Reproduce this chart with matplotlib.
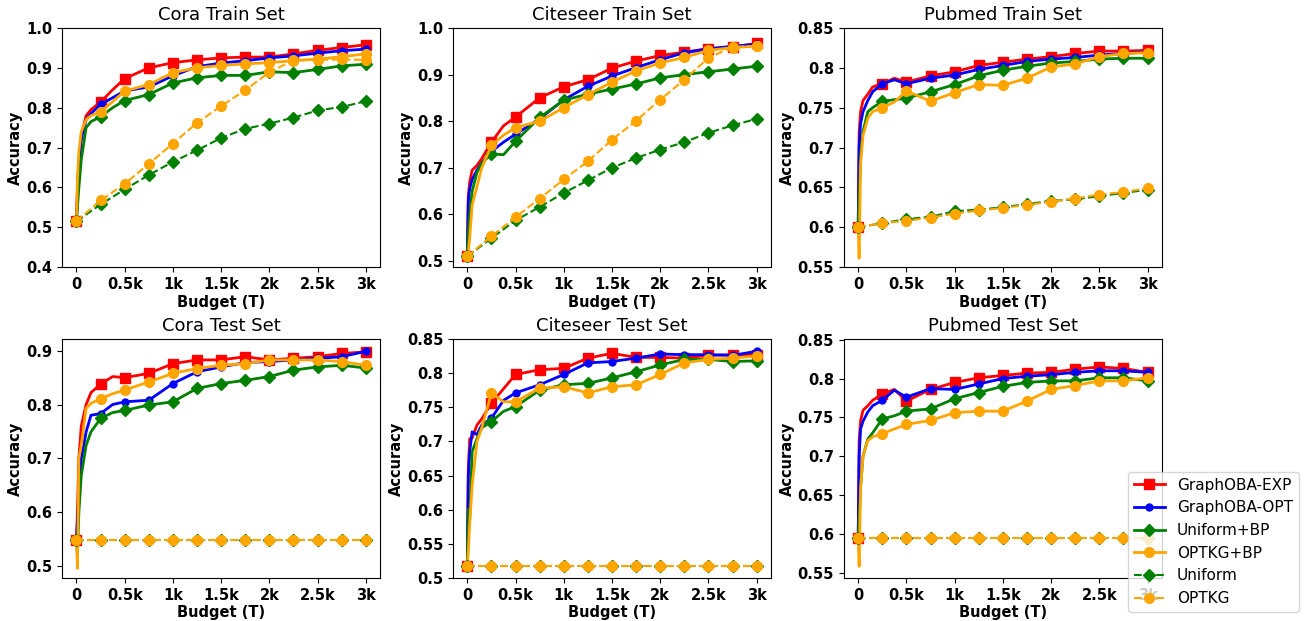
import matplotlib
matplotlib.use("Agg")
import matplotlib.pyplot as plt
from matplotlib.ticker import FuncFormatter

# budget steps where values were read (solid curves) and marker steps (dashed curves)
budget = [0, 10, 25, 50, 100, 150, 250, 375, 500, 750, 1000, 1250, 1500, 1750, 2000, 2250, 2500, 2750, 3000]
budget_marks = [0, 250, 500, 750, 1000, 1250, 1500, 1750, 2000, 2250, 2500, 2750, 3000]

labels = ["GraphOBA-EXP", "GraphOBA-OPT", "Uniform+BP", "OPTKG+BP", "Uniform", "OPTKG"]

# Cora train
cora_train_exp = [.515, .60, .67, .73, .78, .795, .814, .845, .873, .900, .913, .920, .925, .927, .927, .935, .944, .951, .958]
cora_train_opt = [.515, .58, .65, .72, .77, .785, .808, .825, .842, .852, .880, .903, .912, .918, .925, .930, .937, .943, .947]
cora_train_ubp = [.515, .55, .60, .67, .75, .765, .777, .800, .818, .833, .862, .875, .881, .881, .890, .888, .896, .905, .909]
cora_train_obp = [.515, .62, .69, .74, .77, .78, .790, .815, .842, .858, .888, .900, .906, .910, .913, .918, .922, .928, .935]
cora_train_uni = [.515, .557, .595, .631, .664, .693, .724, .747, .760, .775, .793, .802, .816]
cora_train_optkg = [.515, .567, .609, .659, .710, .762, .804, .844, .889, .919, .920, .921, .920]

# Citeseer train
cite_train_exp = [.51, .64, .67, .695, .705, .72, .755, .79, .809, .85, .874, .889, .914, .929, .941, .948, .956, .959, .967]
cite_train_opt = [.51, .63, .655, .675, .695, .71, .735, .755, .772, .805, .846, .875, .897, .915, .932, .947, .955, .961, .965]
cite_train_ubp = [.51, .56, .60, .65, .69, .71, .73, .728, .757, .808, .845, .858, .869, .880, .893, .900, .906, .912, .918]
cite_train_obp = [.51, .52, .55, .62, .66, .70, .748, .77, .786, .80, .829, .857, .884, .908, .925, .937, .952, .958, .961]
cite_train_uni = [.51, .549, .587, .616, .646, .673, .700, .721, .739, .755, .775, .791, .805]
cite_train_optkg = [.51, .553, .594, .634, .675, .714, .760, .801, .846, .889, .936, .959, .962]

# Pubmed train
pub_train_exp = [.60, .72, .745, .759, .767, .776, .780, .787, .782, .790, .795, .803, .807, .811, .814, .818, .821, .821, .822]
pub_train_opt = [.60, .70, .73, .745, .759, .770, .780, .785, .780, .787, .791, .798, .803, .808, .811, .813, .816, .818, .820]
pub_train_ubp = [.60, .64, .69, .72, .745, .75, .758, .760, .762, .770, .779, .790, .797, .802, .806, .808, .811, .812, .812]
pub_train_obp = [.60, .561, .68, .715, .737, .745, .750, .757, .771, .758, .769, .779, .778, .787, .801, .805, .814, .818, .819]
pub_train_uni = [.60, .605, .610, .613, .620, .622, .625, .629, .633, .635, .639, .643, .647]
pub_train_optkg = [.60, .605, .608, .612, .617, .621, .624, .628, .632, .636, .641, .644, .649]

# Cora test
cora_test_exp = [.548, .60, .70, .76, .80, .822, .838, .852, .850, .858, .876, .883, .883, .889, .883, .886, .889, .895, .898]
cora_test_opt = [.548, .58, .63, .70, .749, .78, .783, .800, .805, .808, .839, .861, .870, .878, .880, .883, .886, .889, .899]
cora_test_ubp = [.548, .52, .60, .668, .724, .749, .774, .785, .789, .799, .805, .830, .839, .845, .852, .864, .870, .873, .868]
cora_test_obp = [.548, .495, .70, .724, .793, .802, .811, .820, .827, .842, .858, .867, .873, .876, .883, .883, .883, .880, .873]
cora_test_uni = [.548] * 13
cora_test_optkg = [.548] * 13

# Citeseer test
cite_test_exp = [.517, .66, .704, .705, .724, .733, .756, .777, .798, .805, .807, .822, .829, .823, .823, .822, .826, .827, .827]
cite_test_opt = [.517, .65, .685, .714, .71, .724, .734, .76, .771, .783, .798, .815, .817, .822, .828, .827, .827, .826, .832]
cite_test_ubp = [.517, .60, .587, .685, .704, .72, .729, .744, .751, .775, .783, .785, .793, .802, .812, .82, .82, .817, .818]
cite_test_obp = [.517, .538, .58, .636, .70, .72, .771, .758, .758, .778, .78, .771, .78, .783, .798, .815, .82, .822, .825]
cite_test_uni = [.517] * 13
cite_test_optkg = [.517] * 13

# Pubmed test
pub_test_exp = [.595, .72, .746, .759, .765, .772, .78, .786, .771, .786, .795, .801, .804, .807, .808, .812, .815, .813, .808]
pub_test_opt = [.595, .70, .735, .745, .757, .765, .772, .785, .776, .787, .786, .793, .80, .803, .805, .808, .81, .81, .808]
pub_test_ubp = [.595, .62, .66, .70, .722, .73, .748, .752, .758, .761, .774, .782, .79, .795, .797, .797, .801, .801, .797]
pub_test_obp = [.595, .558, .66, .70, .72, .725, .729, .735, .741, .746, .756, .758, .758, .771, .786, .791, .797, .797, .801]
pub_test_uni = [.595] * 13
pub_test_optkg = [.595] * 13

panels = [
    ("Cora Train Set", (0.4, 1.0), [0.4, 0.5, 0.6, 0.7, 0.8, 0.9, 1.0],
     [cora_train_exp, cora_train_opt, cora_train_ubp, cora_train_obp, cora_train_uni, cora_train_optkg]),
    ("Citeseer Train Set", (0.487, 1.0), [0.5, 0.6, 0.7, 0.8, 0.9, 1.0],
     [cite_train_exp, cite_train_opt, cite_train_ubp, cite_train_obp, cite_train_uni, cite_train_optkg]),
    ("Pubmed Train Set", (0.55, 0.85), [0.55, 0.6, 0.65, 0.7, 0.75, 0.8, 0.85],
     [pub_train_exp, pub_train_opt, pub_train_ubp, pub_train_obp, pub_train_uni, pub_train_optkg]),
    ("Cora Test Set", (0.477, 0.922), [0.5, 0.6, 0.7, 0.8, 0.9],
     [cora_test_exp, cora_test_opt, cora_test_ubp, cora_test_obp, cora_test_uni, cora_test_optkg]),
    ("Citeseer Test Set", (0.5, 0.85), [0.5, 0.55, 0.6, 0.65, 0.7, 0.75, 0.8, 0.85],
     [cite_test_exp, cite_test_opt, cite_test_ubp, cite_test_obp, cite_test_uni, cite_test_optkg]),
    ("Pubmed Test Set", (0.543, 0.851), [0.55, 0.6, 0.65, 0.7, 0.75, 0.8, 0.85],
     [pub_test_exp, pub_test_opt, pub_test_ubp, pub_test_obp, pub_test_uni, pub_test_optkg]),
]

styles = [
    dict(color="red", marker="s", ms=7, ls="-", lw=2),
    dict(color="blue", marker="o", ms=5, ls="-", lw=2),
    dict(color="green", marker="D", ms=6.5, ls="-", lw=2),
    dict(color="orange", marker="o", ms=7, ls="-", lw=2),
    dict(color="green", marker="D", ms=6.5, ls="--", lw=1.5),
    dict(color="orange", marker="o", ms=7, ls="--", lw=1.5),
]

solid_marks = [i for i, b in enumerate(budget) if b % 250 == 0]


def fmt_y(v, pos):
    s = f"{v:.2f}".rstrip("0")
    if s.endswith("."):
        s += "0"
    return s


fig, axes = plt.subplots(2, 3, figsize=(13.07, 6.21), dpi=100)
plt.subplots_adjust(left=62 / 1307, right=1162 / 1307, top=1 - 28 / 621,
                    bottom=1 - 578 / 621, wspace=0.228, hspace=0.301)

handles = []
for ax, (title, ylim, yticks, series) in zip(axes.flat, panels):
    handles = []
    for k, (vals, st) in enumerate(zip(series, styles)):
        if k < 4:
            h, = ax.plot(budget, vals, markevery=solid_marks, label=labels[k], **st)
        else:
            h, = ax.plot(budget_marks, vals, label=labels[k], **st)
        handles.append(h)
    ax.set_title(title, fontsize=13)
    ax.set_xlim(-150, 3150)
    ax.set_ylim(*ylim)
    ax.set_xticks([0, 500, 1000, 1500, 2000, 2500, 3000])
    ax.set_xticklabels(["0", "0.5k", "1k", "1.5k", "2k", "2.5k", "3k"])
    ax.set_yticks(yticks)
    ax.yaxis.set_major_formatter(FuncFormatter(fmt_y))
    for t in ax.get_xticklabels() + ax.get_yticklabels():
        t.set_fontweight("bold")
        t.set_fontsize(10.5)
    ax.set_xlabel("Budget (T)", fontsize=10.5, fontweight="bold", labelpad=2)
    ax.set_ylabel("Accuracy", fontsize=10.5, fontweight="bold", labelpad=2)

fig.legend(handles, labels, loc="lower right", bbox_to_anchor=(1299 / 1307, 9 / 621),
           borderaxespad=0, fontsize=11)

fig.savefig("out.png", dpi=100)
